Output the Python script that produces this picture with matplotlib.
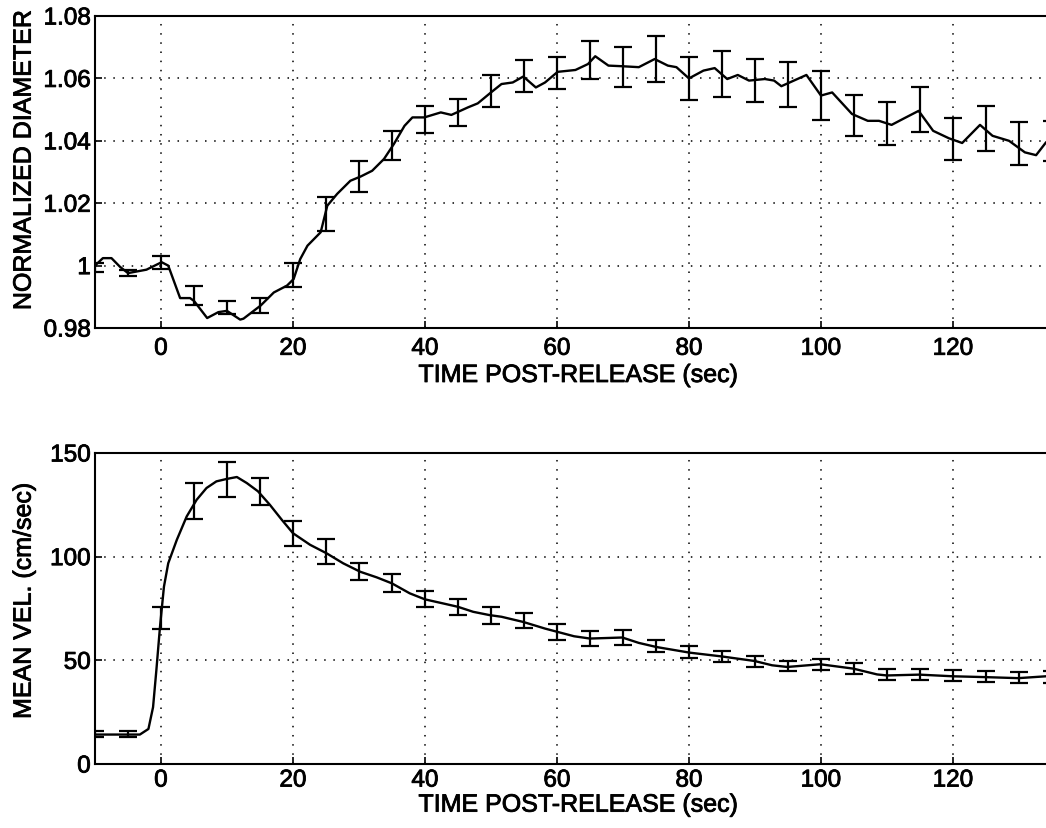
import numpy as np
import matplotlib.pyplot as plt
import matplotlib.patheffects as pe

plt.rcParams['font.family'] = ['Liberation Sans', 'DejaVu Sans']

# error bar positions (sec)
t_bar = [-10, -5, 0, 5, 10, 15, 20, 25, 30, 35, 40, 45, 50, 55, 60, 65,
         70, 75, 80, 85, 90, 95, 100, 105, 110, 115, 120, 125, 130, 135]

# normalized diameter: means and errors at the bar positions
d_mean = [0.9995, 0.9977, 1.0010, 0.9905, 0.9866, 0.9871, 0.9970, 1.0166,
          1.0285, 1.0385, 1.0468, 1.0491, 1.0559, 1.0608, 1.0617, 1.0659,
          1.0637, 1.0662, 1.0600, 1.0614, 1.0593, 1.0580, 1.0545, 1.0480,
          1.0455, 1.0500, 1.0405, 1.0440, 1.0391, 1.0400]
d_err = [0.0015, 0.0010, 0.0020, 0.0031, 0.0020, 0.0024, 0.0040, 0.0054,
         0.0049, 0.0045, 0.0044, 0.0043, 0.0052, 0.0052, 0.0051, 0.0060,
         0.0063, 0.0073, 0.0068, 0.0075, 0.0068, 0.0073, 0.0078, 0.0066,
         0.0068, 0.0073, 0.0068, 0.0073, 0.0068, 0.0065]

# normalized diameter: continuous trace
t_d_line = [-10, -8.8, -7.5, -6.2, -5.0, -2.2, 0.1, 1.1, 2.9, 4.4, 5.0, 7.0,
            8.7, 10.0, 12.0, 12.5, 15.1, 17.1, 19.1, 20.1, 21.1, 22.2, 24.2,
            25.2, 26.7, 28.7, 30.3, 32.0, 33.8, 35.3, 36.9, 38.1, 39.9, 42.4,
            44.0, 46.5, 48.0, 50.0, 51.6, 53.3, 54.9, 56.8, 58.2, 60.1, 62.8,
            64.7, 65.8, 67.8, 69.9, 72.4, 74.8, 76.8, 78.1, 80.0, 82.2, 83.9,
            85.8, 87.4, 89.1, 91.5, 92.9, 94.0, 95.9, 97.8, 100.0, 101.7,
            104.7, 107.1, 108.8, 110.7, 112.6, 114.8, 117.0, 119.4, 121.4,
            124.1, 126.0, 128.5, 130.9, 132.6, 134.1, 136.0]
d_line = [1.0000, 1.0024, 1.0024, 0.9996, 0.9976, 0.9987, 1.0011, 1.0000,
          0.9896, 0.9896, 0.9887, 0.9832, 0.9851, 0.9855, 0.9827, 0.9830,
          0.9872, 0.9914, 0.9936, 0.9957, 1.0021, 1.0064, 1.0107, 1.0192,
          1.0230, 1.0272, 1.0286, 1.0304, 1.0342, 1.0390, 1.0448, 1.0475,
          1.0475, 1.0491, 1.0483, 1.0507, 1.0520, 1.0555, 1.0582, 1.0587,
          1.0606, 1.0571, 1.0587, 1.0621, 1.0627, 1.0646, 1.0671, 1.0641,
          1.0639, 1.0636, 1.0662, 1.0641, 1.0636, 1.0600, 1.0625, 1.0633,
          1.0598, 1.0611, 1.0593, 1.0598, 1.0593, 1.0575, 1.0593, 1.0611,
          1.0545, 1.0555, 1.0486, 1.0464, 1.0464, 1.0451, 1.0472, 1.0496,
          1.0432, 1.0408, 1.0393, 1.0451, 1.0416, 1.0400, 1.0363, 1.0354,
          1.0395, 1.0420]

# mean velocity: means and errors at the bar positions
v_mean = [14.5, 14.5, 70.4, 126.9, 137.3, 131.5, 111.3, 102.5, 92.9, 87.2,
          79.6, 75.8, 71.6, 69.0, 63.7, 60.5, 61.0, 57.0, 54.0, 51.8, 49.4,
          47.2, 48.0, 46.2, 43.0, 43.2, 42.7, 42.2, 41.7, 42.0]
v_err = [1.5, 1.5, 5.1, 8.6, 8.3, 6.5, 6.1, 6.0, 4.2, 4.4, 3.8, 4.0, 3.9,
         3.6, 3.7, 3.6, 3.6, 3.0, 2.8, 2.7, 2.7, 2.4, 2.8, 2.7, 2.7, 2.7,
         2.8, 2.7, 2.7, 2.7]

# mean velocity: continuous trace
t_v_line = [-10, -3.2, -1.9, -1.2, -0.7, -0.15, 0.45, 1.1, 2.4, 3.9, 5.4,
            6.9, 8.4, 10.0, 11.5, 13.0, 14.7, 16.5, 18.3, 20.0, 22.6, 25.1,
            27.6, 30.2, 32.7, 35.0, 37.7, 40.0, 42.8, 45.0, 47.3, 49.8, 51.6,
            54.9, 58.2, 60.1, 62.6, 65.0, 69.9, 72.4, 75.1, 80.1, 84.9, 89.9,
            92.6, 94.9, 99.9, 104.9, 108.5, 110.0, 114.9, 120.0, 124.9, 129.9,
            134.1, 136.0]
v_line = [14.2, 14.2, 16.9, 27.4, 45.2, 66.1, 85.5, 96.8, 108.1, 119.4,
          127.4, 133.1, 136.3, 137.5, 138.4, 135.5, 131.5, 125.0, 117.8,
          111.3, 105.7, 101.6, 96.8, 92.7, 90.0, 87.1, 82.3, 79.4, 77.4, 75.8,
          73.4, 71.8, 71.0, 68.5, 65.3, 63.7, 61.6, 60.5, 61.0, 58.4, 56.4,
          53.7, 51.9, 49.7, 47.6, 46.8, 48.1, 46.0, 43.2, 42.7, 43.1, 42.3,
          41.9, 41.4, 42.3, 42.3]

fig = plt.figure(figsize=(10.46, 8.29), dpi=100)
ax1 = fig.add_axes([0.0908, 0.6031, 0.9092, 0.3764])
ax2 = fig.add_axes([0.0908, 0.0772, 0.9092, 0.3752])

xticks = [0, 20, 40, 60, 80, 100, 120]
fs = 17.5
heavy = [pe.withStroke(linewidth=0.6, foreground='black')]

for ax in (ax1, ax2):
    ax.set_xlim(-10, 134.1)
    ax.set_xticks(xticks)
    ax.grid(True, color='black', linestyle=(0, (1, 5)), linewidth=1.1)
    ax.tick_params(direction='in', length=5, width=1.2, labelsize=fs)
    ax.tick_params(axis='y', pad=3)
    for s in ax.spines.values():
        s.set_linewidth(1.5)
    ax.spines['right'].set_visible(False)
    ax.set_xlabel('TIME POST-RELEASE (sec)', fontsize=18)

ax1.tick_params(axis='x', pad=7)
ax2.tick_params(axis='x', pad=4)
ax1.xaxis.set_label_coords(0.508, -0.112)
ax2.xaxis.set_label_coords(0.508, -0.092)

ax1.plot(t_d_line, d_line, color='black', linewidth=1.7)
ax1.errorbar(t_bar, d_mean, yerr=d_err, fmt='none', ecolor='black',
             elinewidth=1.6, capsize=6.5, capthick=1.6)
ax1.set_ylim(0.98, 1.08)
ax1.set_yticks([0.98, 1.0, 1.02, 1.04, 1.06, 1.08])
ax1.set_yticklabels(['0.98', '1', '1.02', '1.04', '1.06', '1.08'])
ax1.set_ylabel('NORMALIZED DIAMETER', fontsize=18)
ax1.yaxis.set_label_coords(-0.0624, 0.537)

ax2.plot(t_v_line, v_line, color='black', linewidth=1.7)
ax2.errorbar(t_bar, v_mean, yerr=v_err, fmt='none', ecolor='black',
             elinewidth=1.6, capsize=6.5, capthick=1.6)
ax2.set_ylim(0, 150)
ax2.set_yticks([0, 50, 100, 150])
ax2.set_ylabel('MEAN VEL. (cm/sec)', fontsize=18)
ax2.yaxis.set_label_coords(-0.0624, 0.524)

for ax in (ax1, ax2):
    for t in ax.get_xticklabels() + ax.get_yticklabels():
        t.set_path_effects(heavy)
    ax.xaxis.label.set_path_effects(heavy)
    ax.yaxis.label.set_path_effects(heavy)

fig.savefig('out.png', dpi=100)
